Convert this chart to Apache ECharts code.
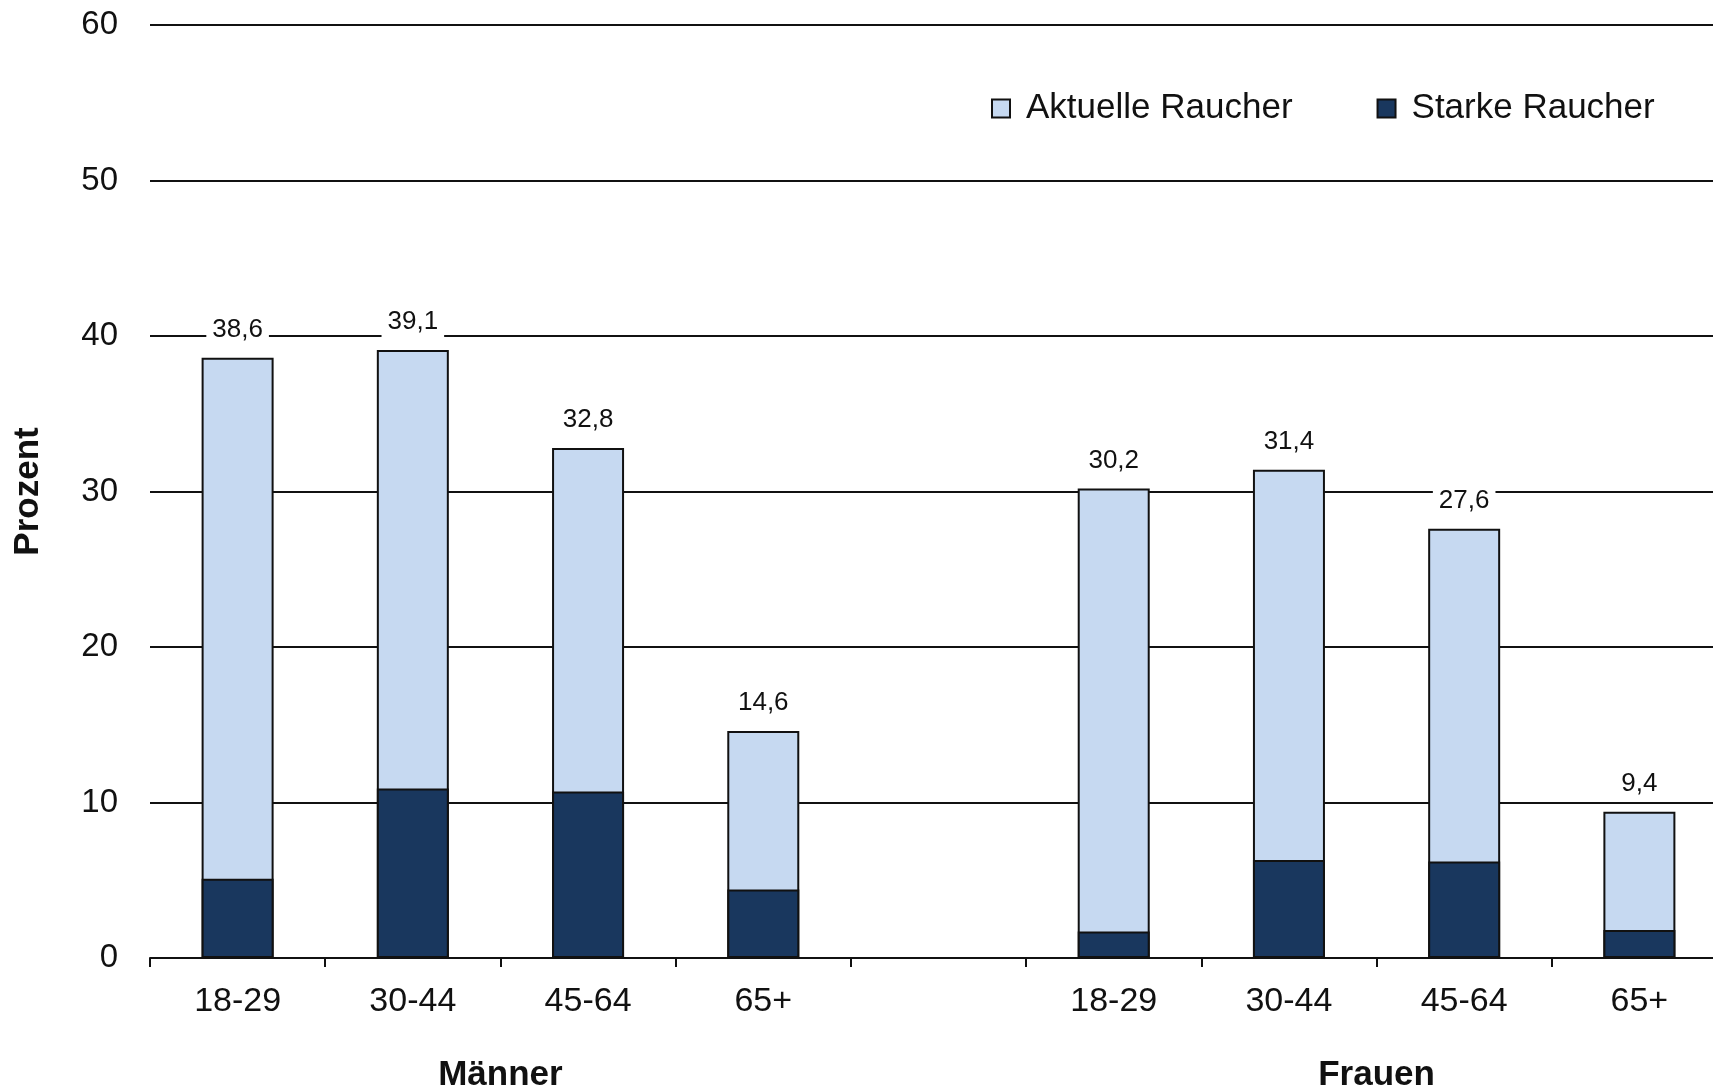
<!DOCTYPE html>
<html>
<head>
<meta charset="utf-8">
<script src="https://cdn.jsdelivr.net/npm/echarts@6/dist/echarts.min.js"></script>
<style>
html,body{margin:0;padding:0;background:#fff;overflow:hidden;}
#chart{width:1727px;height:1089px;}
</style>
</head>
<body>
<div id="chart"></div>
<script>
const categories = ['18-29', '30-44', '45-64', '65+', '', '18-29', '30-44', '45-64', '65+'];
const groups = ['Männer', 'Frauen'];
const groupRanges = [[0, 3], [5, 8]];
const aktuelleRaucher = [38.6, 39.1, 32.8, 14.6, null, 30.2, 31.4, 27.6, 9.4];
const starkeRaucher = [5.1, 10.9, 10.7, 4.4, null, 1.7, 6.3, 6.2, 1.8];
const seriesNames = ['Aktuelle Raucher', 'Starke Raucher'];
const yTicks = [0, 10, 20, 30, 40, 50, 60];

const FONT = 'Liberation Sans, Arial, sans-serif';
const chart = echarts.init(document.getElementById('chart'), null, {renderer: 'canvas'});

// group label positions computed from the category ranges (in category-slot units)
const groupCenters = groupRanges.map(r => (r[0] + r[1] + 1) / 2);

const option = {
  backgroundColor: '#fff',
  animation: false,
  textStyle: {fontFamily: FONT, color: '#111'},
  grid: {left: 150, right: 0, top: 25, bottom: 131, outerBoundsMode: 'none'},
  legend: {
    data: seriesNames,
    left: 986,
    top: 86,
    itemWidth: 18,
    itemHeight: 18,
    itemGap: 84,
    textStyle: {fontSize: 35, color: '#111', fontFamily: FONT, padding: [0, 0, 0, 11]},
    icon: 'rect'
  },
  xAxis: [
    {
      type: 'category',
      data: categories,
      axisLine: {lineStyle: {color: '#111', width: 2}},
      axisTick: {show: true, length: 9, lineStyle: {color: '#111', width: 2}},
      axisLabel: {interval: 0, fontSize: 34, color: '#111', margin: 27, fontFamily: FONT}
    },
    {
      type: 'value',
      min: 0,
      max: categories.length,
      interval: 1,
      position: 'bottom',
      offset: 92,
      axisLine: {show: false},
      axisTick: {show: false},
      splitLine: {show: false},
      axisLabel: {
        fontSize: 35, fontWeight: 'bold', color: '#111', margin: 8, fontFamily: FONT,
        showMinLabel: true, showMaxLabel: true,
        formatter: v => {
          const i = groupCenters.indexOf(v);
          return i >= 0 ? groups[i] : '';
        }
      }
    }
  ],
  yAxis: {
    type: 'value',
    min: yTicks[0],
    max: yTicks[yTicks.length - 1],
    interval: 10,
    name: 'Prozent',
    nameLocation: 'middle',
    nameGap: 104,
    nameTextStyle: {fontSize: 35, fontWeight: 'bold', color: '#111', fontFamily: FONT},
    axisLine: {show: false},
    axisTick: {show: false},
    axisLabel: {fontSize: 33, color: '#111', margin: 32, fontFamily: FONT},
    splitLine: {lineStyle: {color: '#111', width: 2}}
  },
  series: [
    {
      name: seriesNames[0],
      type: 'bar',
      xAxisIndex: 0,
      data: aktuelleRaucher,
      barWidth: 72,
      barGap: '-100%',
      itemStyle: {color: '#c6d9f1', borderColor: '#111', borderWidth: 2},
      label: {
        show: true,
        position: 'top',
        distance: 13,
        fontSize: 26,
        color: '#111',
        fontFamily: FONT,
        backgroundColor: '#fff',
        padding: [2, 6],
        formatter: p => p.value == null ? '' : p.value.toFixed(1).replace('.', ',')
      },
      z: 2
    },
    {
      name: seriesNames[1],
      type: 'bar',
      xAxisIndex: 0,
      data: starkeRaucher,
      barWidth: 72,
      barGap: '-100%',
      itemStyle: {color: '#19375e', borderColor: '#111', borderWidth: 2},
      z: 3
    }
  ]
};
chart.setOption(option);
</script>
</body>
</html>
